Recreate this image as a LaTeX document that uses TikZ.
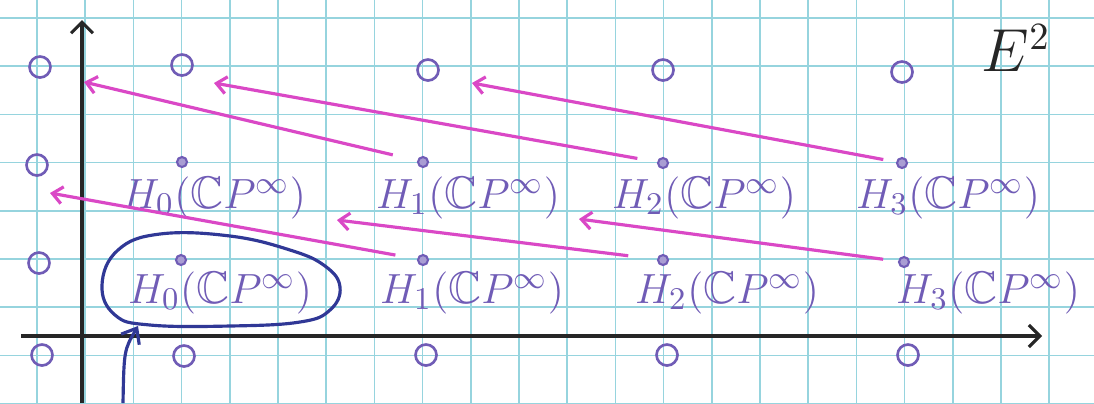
\documentclass[tikz,border=0pt]{standalone}
\usepackage{amsmath,amssymb}
\usepackage{xcolor}
\usepackage{tikz}
\usetikzlibrary{shapes.geometric,arrows.meta,positioning}
\definecolor{gridcyan}{RGB}{150,212,222}
\definecolor{penpurple}{RGB}{112,92,182}
\definecolor{penmagenta}{RGB}{218,72,198}
\definecolor{penblue}{RGB}{48,56,150}
\definecolor{penblack}{RGB}{38,38,38}
\newcommand{\CPinf}{\mathbb{C}P^{\infty}}

\begin{document}
\begin{tikzpicture}[x=0.1mm, y=-0.1mm,
    gridline/.style={draw=gridcyan, line width=0.45pt},
    axis/.style={-{Straight Barb[length=1.1mm, width=2.2mm]}, draw=penblack, line width=0.9pt},
    zero/.style={circle, draw=penpurple, line width=0.75pt, minimum size=2.1mm, inner sep=0pt},
    cls/.style={circle, draw=penpurple, fill=penpurple!60, line width=0.6pt, minimum size=1mm, inner sep=0pt},
    hom/.style={text=penpurple, font=\fontsize{13}{15}\selectfont, inner sep=0pt},
    dtwo/.style={-{Straight Barb[length=1mm, width=1.7mm]}, draw=penmagenta, line width=0.9pt},
    blob/.style={draw=penblue, line width=0.9pt},
    pointer/.style={-{Straight Barb[length=1.3mm, width=2.1mm]}, draw=penblue, line width=0.9pt}
]
\fill[white] (0,0) rectangle (1094,403);
\useasboundingbox (0,0) rectangle (1094,403);

\foreach \i in {0,...,22} \draw[gridline] ({37+48.2*\i},0) -- ++(0,403);
\foreach \j in {0,...,8} \draw[gridline] (0,{18+48.2*\j}) -- ++(1094,0);

\coordinate (yfoot) at (82,403);
\coordinate (ytip) at (82,20);
\coordinate (xfoot) at (21,336);
\coordinate (xtip) at (1042,336);
\draw[axis] (yfoot) -- (ytip);
\draw[axis] (xfoot) -- (xtip);

\node[zero] (zm2) at (40,67) {};
\node[zero] (z02) at (182,65) {};
\node[zero] (z12) at (428,70) {};
\node[zero] (z22) at (663,70) {};
\node[zero] (z32) at (902,72) {};
\node[zero] (zm1) at (37,165) {};
\node[zero] (zm0) at (39,263) {};
\node[zero] (zmb) at (42,355) {};
\node[zero] (z0b) at (184,356) {};
\node[zero] (z1b) at (426,355) {};
\node[zero] (z2b) at (667,355) {};
\node[zero] (z3b) at (908,355) {};

\node[cls] (d01) at (182,162) {};
\node[cls] (d11) at (423,162) {};
\node[cls] (d21) at (663,163) {};
\node[cls] (d31) at (902,163) {};
\node[cls] (d00) at (181,260) {};
\node[cls] (d10) at (423,260) {};
\node[cls] (d20) at (663,260) {};
\node[cls] (d30) at (904,262) {};

\node[hom] (h01) at (214,198) {$H_0(\CPinf)$};
\node[hom] (h11) at (468,198) {$H_1(\CPinf)$};
\node[hom] (h21) at (704,198) {$H_2(\CPinf)$};
\node[hom] (h31) at (948,198) {$H_3(\CPinf)$};
\node[hom] (h00) at (220,293) {$H_0(\CPinf)$};
\node[hom] (h10) at (472,293) {$H_1(\CPinf)$};
\node[hom] (h20) at (727,293) {$H_2(\CPinf)$};
\node[hom] (h30) at (988,293) {$H_3(\CPinf)$};

\node[text=penblack, font=\fontsize{16}{18}\selectfont, inner sep=0pt] (page) at (1016,48) {$E^2$};

\coordinate (t11) at (84,82);
\coordinate (t21) at (214,83);
\coordinate (t31) at (472,83);
\coordinate (t10) at (50,193);
\coordinate (t20) at (337,220);
\coordinate (t30) at (579,219);
\draw[dtwo, shorten <=2.5mm] (d11) -- (t11);
\draw[dtwo, shorten <=2mm] (d21) -- (t21);
\draw[dtwo, shorten <=1.3mm] (d31) -- (t31);
\draw[dtwo, shorten <=2.2mm] (d10) -- (t10);
\draw[dtwo, shorten <=2.9mm] (d20) -- (t20);
\draw[dtwo, shorten <=1.5mm] (d30) -- (t30);

\draw[blob] plot[smooth cycle, tension=0.7] coordinates {(102,285) (118,250) (160,234) (230,236) (290,250) (325,266) (340,287) (330,310) (300,322) (230,326) (150,325) (115,315)};
\coordinate (ptail) at (123,403);
\coordinate (ptip) at (138,326);
\draw[pointer] (ptail) .. controls (124,350) .. (ptip);
\end{tikzpicture}
\end{document}
